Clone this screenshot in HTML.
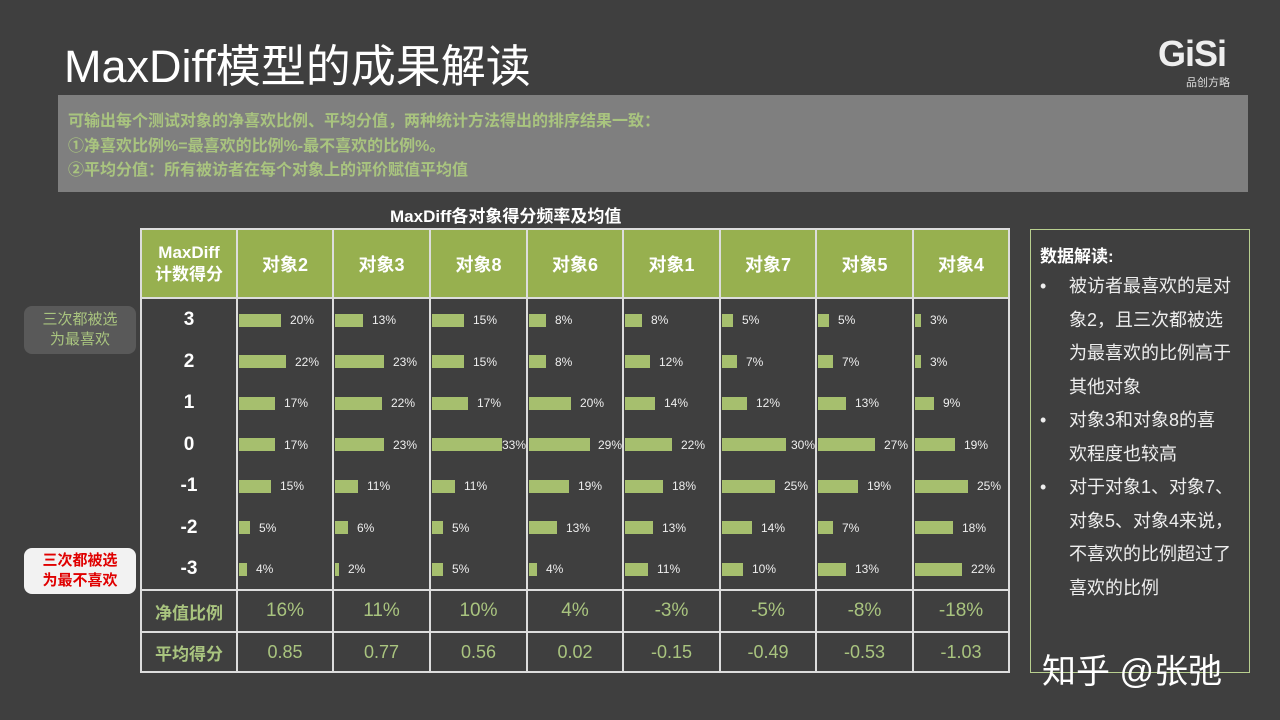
<!DOCTYPE html>
<html><head><meta charset="utf-8">
<style>
body{margin:0;width:1280px;height:720px;background:#3f3f3f;position:relative;overflow:hidden;font-family:"Liberation Sans","Noto Sans CJK SC",sans-serif;color:#fff}
.a{position:absolute}
.title{left:64px;top:30px;font-size:45px;color:#fff;white-space:nowrap}
.gray{left:58px;top:95px;width:1190px;height:97px;background:#7f7f7f}
.gray div{position:absolute;left:10px;font-size:16px;font-weight:bold;color:#a9c47f;white-space:nowrap}
.hdr{background:#97b04f;}
.vl{background:#ddd;width:2px}
.hl{background:#ddd;height:2px}
.c{display:flex;align-items:center;justify-content:center;text-align:center}
.bar{background:#a6bf6e;height:13px}
.pct{font-size:12px;color:#eee;white-space:nowrap}
.bl{position:relative;padding-left:29px;white-space:nowrap}
.bl span{position:absolute;left:0}
</style></head><body>
<div class="a title">MaxDiff模型的成果解读</div>
<div class="a" style="left:1158px;top:33px;font-size:36px;font-weight:bold;color:#eee;letter-spacing:-1px">GiSi</div>
<div class="a" style="left:1186px;top:74px;font-size:11px;color:#ddd">品创方略</div>
<div class="a gray">
<div style="top:12px">可输出每个测试对象的净喜欢比例、平均分值，两种统计方法得出的排序结果一致：</div>
<div style="top:37px">①净喜欢比例%=最喜欢的比例%-最不喜欢的比例%。</div>
<div style="top:61px">②平均分值：所有被访者在每个对象上的评价赋值平均值</div>
</div>
<div class="a" style="left:390px;top:202px;font-size:17px;font-weight:bold;white-space:nowrap">MaxDiff各对象得分频率及均值</div>
<div class="a hdr" style="left:141px;top:229px;width:868px;height:69px"></div>
<div id="t"></div>
<div class="a c" style="left:24px;top:306px;width:112px;height:48px;background:#595959;border-radius:8px;color:#a9c47f;font-size:15px;line-height:20px">三次都被选<br>为最喜欢</div>
<div class="a c" style="left:24px;top:548px;width:112px;height:46px;background:#f2f2f2;border-radius:8px;color:#e00000;font-size:15px;font-weight:bold;line-height:20px">三次都被选<br>为最不喜欢</div>
<div class="a" style="left:1030px;top:229px;width:218px;height:442px;border:1px solid #b8cf8f"></div>
<div class="a" style="left:1040px;top:242px;font-size:17px;font-weight:bold">数据解读:</div>
<div class="a" style="left:1040px;top:270px;width:210px;font-size:18px;line-height:33.5px;color:#eee">
<div class="bl"><span>•</span>被访者最喜欢的是对<br>象2，且三次都被选<br>为最喜欢的比例高于<br>其他对象</div>
<div class="bl"><span>•</span>对象3和对象8的喜<br>欢程度也较高</div>
<div class="bl"><span>•</span>对于对象1、对象7、<br>对象5、对象4来说，<br>不喜欢的比例超过了<br>喜欢的比例</div>
</div>
<div class="a" style="left:1042px;top:644px;font-size:34px;color:#fff;white-space:nowrap">知乎 @张弛</div>
<script>
var cols=[237,333,430,527,623,720,816,913,1009];
var names=["对象2","对象3","对象8","对象6","对象1","对象7","对象5","对象4"];
var data=[[20,22,17,17,15,5,4],[13,23,22,23,11,6,2],[15,15,17,33,11,5,5],[8,8,20,29,19,13,4],[8,12,14,22,18,13,11],[5,7,12,30,25,14,10],[5,7,13,27,19,7,13],[3,3,9,19,25,18,22]];
var net=["16%","11%","10%","4%","-3%","-5%","-8%","-18%"];
var avg=["0.85","0.77","0.56","0.02","-0.15","-0.49","-0.53","-1.03"];
var rows=["3","2","1","0","-1","-2","-3"];
var h="";
function d(s){h+=s;}
d('<div class="a c" style="left:141px;top:229px;width:96px;height:69px;font-size:17px;font-weight:bold;line-height:22px">MaxDiff<br>计数得分</div>');
for(var i=0;i<8;i++){
 d('<div class="a c" style="left:'+cols[i]+'px;top:229px;width:'+(cols[i+1]-cols[i])+'px;height:69px;font-size:18px;font-weight:bold">'+names[i]+'</div>');
 d('<div class="a c" style="left:'+cols[i]+'px;top:590px;width:'+(cols[i+1]-cols[i])+'px;height:42px;font-size:19px;color:#a9c47f">'+net[i]+'</div>');
 d('<div class="a c" style="left:'+cols[i]+'px;top:632px;width:'+(cols[i+1]-cols[i])+'px;height:41px;font-size:18px;color:#a9c47f">'+avg[i]+'</div>');
 for(var r=0;r<7;r++){
  var y=320+r*41.5, w=Math.round(data[i][r]*2.12);
  var x0=cols[i]+2;
  d('<div class="a bar" style="left:'+x0+'px;top:'+(y-6.5)+'px;width:'+w+'px"></div>');
  var lx=Math.min(x0+w+9,cols[i+1]-25);
  d('<div class="a pct" style="left:'+lx+'px;top:'+(y-7)+'px">'+data[i][r]+'%</div>');
 }
}
for(var r=0;r<7;r++){d('<div class="a c" style="left:141px;top:'+(320+r*41.5-15)+'px;width:96px;height:30px;font-size:19px;font-weight:bold">'+rows[r]+'</div>');}
d('<div class="a c" style="left:141px;top:590px;width:96px;height:42px;font-size:17px;font-weight:bold;color:#a9c47f">净值比例</div>');
d('<div class="a c" style="left:141px;top:632px;width:96px;height:41px;font-size:17px;font-weight:bold;color:#a9c47f">平均得分</div>');
for(var i=0;i<9;i++){d('<div class="a vl" style="left:'+(cols[i]-1)+'px;top:229px;height:444px"></div>');}
d('<div class="a vl" style="left:140px;top:229px;height:444px"></div>');
[229,298,590,632,672].forEach(function(y){d('<div class="a hl" style="left:140px;top:'+(y-1)+'px;width:870px"></div>');});
document.getElementById("t").innerHTML=h;
</script>
</body></html>
